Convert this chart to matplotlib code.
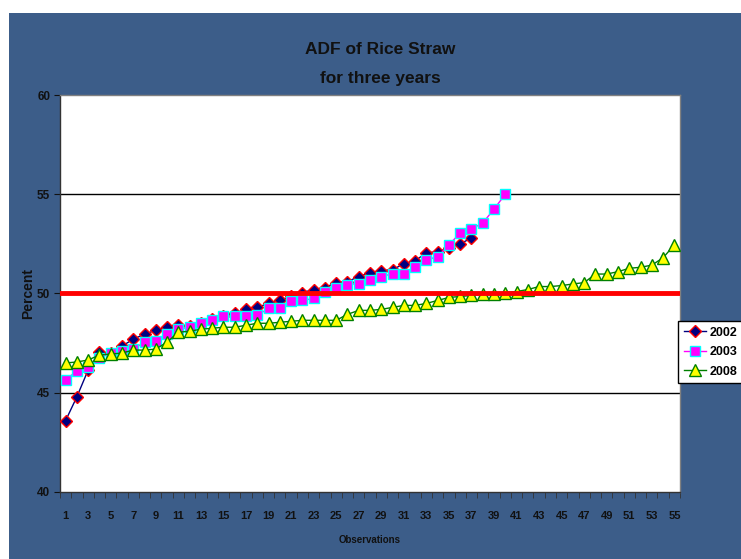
import numpy as np
import matplotlib
matplotlib.use("Agg")
import matplotlib.pyplot as plt
from matplotlib.patches import Rectangle

# ADF (%) of rice straw samples, sorted per year
adf_2002 = [43.6, 44.8, 46.15, 47.05, 47.0, 47.35, 47.7, 47.95, 48.15, 48.3,
            48.4, 48.35, 48.5, 48.7, 48.85, 49.0, 49.2, 49.3, 49.5, 49.65,
            49.85, 50.05, 50.2, 50.3, 50.55, 50.6, 50.85, 51.05, 51.15, 51.2,
            51.5, 51.65, 52.05, 52.1, 52.3, 52.5, 52.8]
adf_2003 = [45.65, 46.1, 46.3, 46.75, 47.0, 47.1, 47.2, 47.55, 47.6, 47.95,
            48.2, 48.3, 48.5, 48.65, 48.85, 48.85, 48.85, 48.9, 49.25, 49.25,
            49.6, 49.65, 49.75, 50.1, 50.3, 50.45, 50.5, 50.7, 50.85, 51.0,
            51.0, 51.35, 51.7, 51.85, 52.45, 53.05, 53.25, 53.55, 54.25, 55.0]
adf_2008 = [46.5, 46.55, 46.65, 46.9, 46.95, 47.0, 47.15, 47.15, 47.2, 47.55,
            48.05, 48.1, 48.2, 48.25, 48.3, 48.3, 48.4, 48.5, 48.5, 48.55,
            48.6, 48.65, 48.65, 48.65, 48.65, 48.95, 49.15, 49.15, 49.2, 49.3,
            49.4, 49.4, 49.5, 49.65, 49.8, 49.85, 49.9, 49.95, 49.95, 50.05,
            50.1, 50.2, 50.35, 50.35, 50.4, 50.48, 50.55, 50.98, 50.98, 51.1,
            51.27, 51.32, 51.43, 51.8, 52.45]
years = ["2002", "2003", "2008"]
reference_level = 50
y_ticks = [40, 45, 50, 55, 60]
n_obs = 55

FONT = ["Liberation Sans Narrow", "Liberation Sans", "DejaVu Sans"]
plt.rcParams["font.family"] = FONT
plt.rcParams["font.weight"] = "bold"

W, H = 741, 559
fig = plt.figure(figsize=(W / 100, H / 100), dpi=100, facecolor="white")

# slide background
fig.patches.append(Rectangle((9 / W, 0), 1 - 9 / W, 1 - 13 / H,
                             transform=fig.transFigure, facecolor="#3c5d89",
                             edgecolor="none", zorder=-10))

ax = fig.add_axes([60 / W, (H - 492) / H, 620 / W, 397 / H])
ax.set_facecolor("white")

styles = [
    dict(marker="D", color="#000080", markerfacecolor="#000080",
         markeredgecolor="#ff0000", markersize=6.5, markeredgewidth=1.0),
    dict(marker="s", color="#ff00ff", markerfacecolor="#ff00ff",
         markeredgecolor="#00ffff", markersize=6.5, markeredgewidth=1.0),
    dict(marker="^", color="#008000", markerfacecolor="#ffff00",
         markeredgecolor="#008000", markersize=8, markeredgewidth=1.0),
]
handles = []
for i, (vals, st, lab) in enumerate(zip([adf_2002, adf_2003, adf_2008], styles, years)):
    x = np.arange(1, len(vals) + 1)
    h, = ax.plot(x, vals, linewidth=1.0, label=lab, zorder=3 + i, **st)
    handles.append(h)

for yv in y_ticks[1:-1]:
    if yv != reference_level:
        ax.axhline(yv, color="black", linewidth=1.0, zorder=1)
ax.axhline(reference_level, color="#ff0000", linewidth=3.5, zorder=10)

ax.set_xlim(0.5, n_obs + 0.5)
ax.set_ylim(y_ticks[0], y_ticks[-1])
ax.set_yticks(y_ticks)
ax.set_yticklabels([str(v) for v in y_ticks], fontsize=8.5, fontweight="bold")
ax.set_xticks(np.arange(1, n_obs + 1, 2))
ax.set_xticklabels([str(v) for v in range(1, n_obs + 1, 2)], fontsize=8,
                   fontweight="bold")
ax.set_xticks(np.arange(0.5, n_obs + 1, 1), minor=True)
ax.tick_params(axis="x", which="major", length=0, pad=14, colors="#111111")
ax.tick_params(axis="x", which="minor", length=4, direction="out", color="#333333")
ax.tick_params(axis="y", which="major", length=4, direction="out", pad=3,
               colors="#111111")
ax.tick_params(axis="y", which="minor", length=0)

for side in ["left", "bottom"]:
    ax.spines[side].set_color("#333333")
    ax.spines[side].set_linewidth(1.0)
for side in ["top", "right"]:
    ax.spines[side].set_color("#808080")
    ax.spines[side].set_linewidth(1.0)

ax.set_ylabel("Percent", fontsize=10, fontweight="bold", color="#111111",
              labelpad=0)
ax.yaxis.set_label_coords(-0.04, 0.5)
ax.set_xlabel("Observations", fontsize=7, fontweight="bold", color="#111111",
              labelpad=10)

fig.text(380 / W, 1 - 50 / H, "ADF of Rice Straw", ha="center", va="center",
         fontsize=12.5, fontweight="bold", color="#111111")
fig.text(380 / W, 1 - 78 / H, "for three years", ha="center", va="center",
         fontsize=12.5, fontweight="bold", color="#111111")

leg = fig.legend(handles=handles, loc="upper left",
                 bbox_to_anchor=(678 / W, 1 - 321 / H), frameon=True,
                 fancybox=False, edgecolor="black", facecolor="white",
                 framealpha=1, prop=dict(weight="bold", size=9),
                 handlelength=1.8, handletextpad=0.25, borderpad=0.45,
                 labelspacing=0.6, borderaxespad=0)
leg.get_frame().set_linewidth(1.0)

fig.savefig("out.png", dpi=100, facecolor="white")
